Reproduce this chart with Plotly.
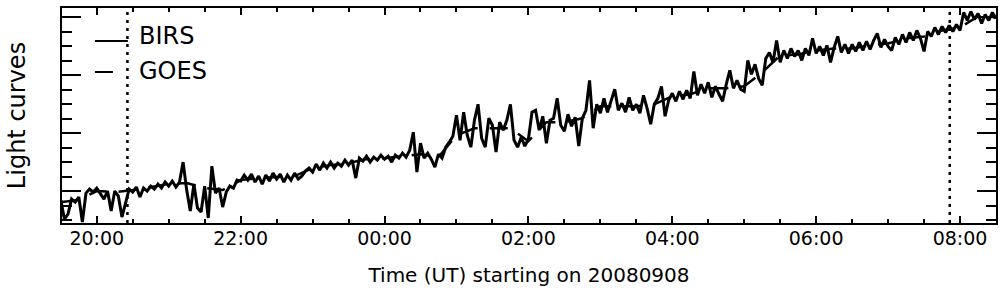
import pandas as pd
import plotly.graph_objects as go

# ---------------- data (relative flux, arbitrary units) ----------------
start_time = "2008-09-08 19:30"
birs_step = "3min"
birs_flux = [
    23, 4, 9, 24, 21, 26, 1, 30, 34, 31,
    35, 30, 24, 32, 12, 32, 27, 6, 19, 34,
    31, 36, 26, 35, 32, 37, 34, 39, 35, 41,
    37, 42, 36, 41, 61, 33, 12, 39, 15, 11,
    37, 5, 57, 30, 35, 16, 31, 37, 35, 43,
    42, 48, 43, 49, 41, 47, 39, 48, 42, 50,
    44, 49, 41, 48, 43, 50, 44, 47, 52, 55,
    51, 59, 53, 60, 55, 61, 55, 60, 57, 63,
    58, 63, 45, 65, 62, 67, 61, 66, 63, 68,
    64, 67, 61, 68, 65, 70, 66, 73, 91, 51,
    80, 65, 70, 64, 56, 69, 65, 76, 81, 87,
    108, 83, 111, 88, 76, 103, 119, 85, 76, 105,
    98, 71, 101, 93, 103, 119, 83, 76, 86, 77,
    84, 111, 113, 93, 107, 80, 103, 105, 125, 98,
    92, 109, 97, 106, 77, 105, 113, 143, 95, 119,
    110, 125, 111, 123, 134, 113, 120, 111, 126, 113,
    119, 110, 128, 115, 99, 119, 125, 137, 107, 123,
    130, 122, 132, 124, 133, 125, 152, 128, 139, 130,
    141, 126, 137, 129, 122, 139, 153, 135, 143, 134,
    132, 163, 149, 159, 145, 138, 165, 171, 161, 183,
    161, 173, 165, 175, 167, 173, 163, 175, 168, 185,
    170, 177, 168, 178, 161, 176, 187, 171, 179, 170,
    179, 172, 181, 173, 182, 174, 183, 190, 176, 184,
    177, 173, 186, 179, 189, 181, 191, 183, 193, 185,
    172, 192, 187, 196, 189, 197, 191, 198, 192, 199,
    193, 211, 203, 212, 204, 210, 200, 209, 203, 211,
    205,
]
goes_step = "15min"
goes_flux = [
    21, 23, 32, 31, 33, 36, 39, 40, 35, 33,
    43, 45, 46, 47, 55, 58, 60, 64, 65, 67,
    69, 66, 88, 95, 95, 95, 82, 101, 101, 105,
    117, 117, 117, 119, 127, 129, 135, 135, 137, 151,
    168, 169, 173, 175, 175, 178, 180, 185, 187, 193,
    196, 207, 206,
]
event_times = ["2008-09-08 20:25:34", "2008-09-09 07:51:26"]
series_names = ["BIRS", "GOES"]
x_title = "Time (UT) starting on 20080908"
y_title = "Light curves"

birs_time = pd.date_range(start_time, periods=len(birs_flux), freq=birs_step)
goes_time = pd.date_range(start_time, periods=len(goes_flux), freq=goes_step)

# ---------------- layout constants ----------------
W, H = 1004, 296
ML, MR, MT, MB = 62, 6, 8, 73
PW, PH = W - ML - MR, H - MT - MB
FONT = "DejaVu Sans"


def px_x(p):
    return (p - ML) / PW


def px_y(p):
    return (H - MB - p) / PH


fig = go.Figure()
fig.add_trace(go.Scatter(x=goes_time, y=goes_flux, mode="lines", name=series_names[1],
                         line=dict(color="black", width=2.5, dash="18px,12px"), showlegend=False))
fig.add_trace(go.Scatter(x=birs_time, y=birs_flux, mode="lines", name=series_names[0],
                         line=dict(color="black", width=3), showlegend=False))

shapes = []
for t in event_times:
    shapes.append(dict(type="line", xref="x", yref="paper", x0=t, x1=t, y0=0, y1=1,
                       line=dict(color="black", width=2.5, dash="3px,5px")))

# hand-drawn legend
legend_rows = [(41, 36, "solid"), (72, 71, "18px,16px")]
annotations = []
for name, (ly, ty, dash) in zip(series_names, legend_rows):
    shapes.append(dict(type="line", xref="paper", yref="paper",
                       x0=px_x(95), x1=px_x(128), y0=px_y(ly), y1=px_y(ly),
                       line=dict(color="black", width=2, dash=dash)))
    annotations.append(dict(text=name, xref="paper", yref="paper", x=px_x(137), y=px_y(ty),
                            xanchor="left", yanchor="middle", showarrow=False,
                            font=dict(family=FONT, size=24, color="black")))

fig.update_layout(
    width=W, height=H, margin=dict(l=ML, r=MR, t=MT, b=MB),
    paper_bgcolor="white", plot_bgcolor="white",
    shapes=shapes, annotations=annotations, showlegend=False,
    xaxis=dict(
        type="date", range=["2008-09-08 19:31", "2008-09-09 08:30"],
        showline=True, linecolor="black", linewidth=2, mirror="allticks",
        ticks="inside", ticklen=7, tickwidth=1.5, tickcolor="black",
        tick0="2008-09-08 20:00", dtick=2 * 3600 * 1000, tickformat="%H:%M",
        tickfont=dict(family=FONT, size=19, color="black"),
        ticklabelstandoff=-3,
        minor=dict(dtick=30 * 60 * 1000, ticklen=4, tickwidth=1.5, tickcolor="black", ticks="inside"),
        showgrid=False, zeroline=False,
        title=dict(text=x_title, font=dict(family=FONT, size=20, color="black"), standoff=20),
    ),
    yaxis=dict(
        range=[0, 215.5], showticklabels=False,
        showline=True, linecolor="black", linewidth=2, mirror="allticks",
        ticks="inside", ticklen=19, tickwidth=1.5, tickcolor="black",
        tick0=32, dtick=58,
        minor=dict(tick0=32, dtick=14.5, ticklen=10, tickwidth=1.5, tickcolor="black", ticks="inside"),
        showgrid=False, zeroline=False,
        title=dict(text=y_title, font=dict(family=FONT, size=24, color="black"), standoff=28),
    ),
)

fig.write_html("out.html")
